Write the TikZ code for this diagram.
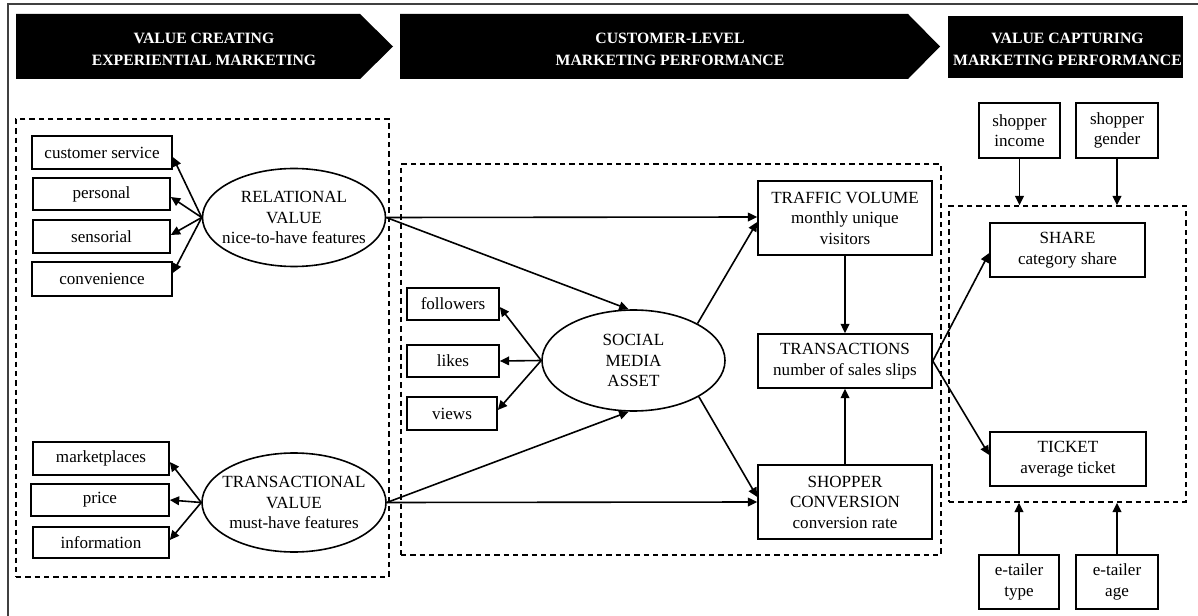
\documentclass[tikz,border=0pt]{standalone}
\usepackage{fontspec}
\setmainfont{Liberation Serif}
\usetikzlibrary{shapes.geometric,arrows.meta}

\begin{document}
\begin{tikzpicture}[x=0.75pt,y=-0.75pt,
  sz/.style 2 args={minimum width=#1*0.75pt, minimum height=#2*0.75pt},
  txt/.style={align=center, font=\fontsize{12.8pt}{15.4pt}\selectfont},
  box/.style={draw, line width=1.2pt, inner sep=0pt, txt},
  oval/.style={draw, ellipse, line width=1.2pt, inner sep=0pt},
  group/.style={draw, line width=1.1pt, dash pattern=on 4pt off 3pt, inner sep=0pt},
  link/.style={line width=1.2pt, -{Triangle[length=7pt,width=6.5pt]}},
  banner/.style={fill=black},
  bannertext/.style={text=white, align=center, font=\bfseries\fontsize{11.8pt}{16.5pt}\selectfont}
]
\useasboundingbox (0,0) rectangle (1198,616);

% outer frame
\draw[line width=0.8pt, black!75] (8,620) -- (8,4) -- (1200,4);

% stage banners
\fill[banner] (16,14) -- (360,14) -- (393,46.5) -- (360,79) -- (16,79) -- cycle;
\fill[banner] (400,14) -- (908,14) -- (940,46.5) -- (908,79) -- (400,79) -- cycle;
\fill[banner] (948,16) rectangle (1183,78);
\node[bannertext] (h1) at (204,49) {VALUE CREATING\\EXPERIENTIAL MARKETING};
\node[bannertext] (h2) at (670,49) {CUSTOMER-LEVEL\\MARKETING PERFORMANCE};
\node[bannertext] (h3) at (1067.5,49) {VALUE CAPTURING\\MARKETING PERFORMANCE};

% dashed groups
\node[group, sz={373}{458}] (gl) at (202.5,348) {};
\node[group, sz={540}{391}] (gm) at (671,359.5) {};
\node[group, sz={237}{296}] (gr) at (1067.5,354) {};

% relational value
\node[box, sz={140}{33}] (cs) at (102,152.5) {customer service};
\node[box, sz={137}{32}] (pe) at (101.5,194) {personal};
\node[box, sz={137}{33}] (se) at (101.5,236.5) {sensorial};
\node[box, sz={140}{34}] (co) at (102,279) {convenience};
\node[oval, sz={183}{98}] (rel) at (294,217.5) {};
\node[txt] at (rel) {RELATIONAL\\VALUE\\nice-to-have features};

% transactional value
\node[box, sz={136}{33}] (mp) at (101,458.5) {marketplaces};
\node[box, sz={138}{32}] (pr) at (100,500) {price};
\node[box, sz={136}{31}] (in) at (101,542.5) {information};
\node[oval, sz={184}{99}] (tra) at (294,502.5) {};
\node[txt] at (tra) {TRANSACTIONAL\\VALUE\\must-have features};

% social media asset
\node[box, sz={92}{32}] (fo) at (453,304) {followers};
\node[box, sz={92}{32}] (li) at (453,361) {likes};
\node[box, sz={90}{33}] (vi) at (452,413.5) {views};
\node[oval, sz={183}{101}] (sma) at (633.5,360.5) {};
\node[txt] at (sma) {SOCIAL\\MEDIA\\ASSET};

% customer-level performance
\node[box, sz={174}{74}] (tv) at (845,218) {TRAFFIC VOLUME\\monthly unique\\visitors};
\node[box, sz={174}{54}] (tr) at (845,361) {TRANSACTIONS\\number of sales slips};
\node[box, sz={174}{74}] (sc) at (845,502) {SHOPPER\\CONVERSION\\conversion rate};

% value capturing performance
\node[box, sz={155}{54}] (sh) at (1067.5,250) {SHARE\\category share};
\node[box, sz={156}{54}] (ti) at (1068,459) {TICKET\\average ticket};
\node[box, sz={81}{55}] (si) at (1019.5,130.5) {shopper\\income};
\node[box, sz={82}{55}] (sg) at (1117,130.5) {shopper\\gender};
\node[box, sz={80}{54}] (et) at (1019,582) {e-tailer\\type};
\node[box, sz={82}{54}] (ea) at (1117,582) {e-tailer\\age};

% indicators
\draw[link] (rel.west) -- ([shift={(0,4.5)}]cs.east);
\draw[link] (rel.west) -- ([shift={(0,3)}]pe.east);
\draw[link] (rel.west) -- ([shift={(0,-1.5)}]se.east);
\draw[link] (rel.west) -- ([shift={(0,-6)}]co.east);
\draw[link] (tra.west) -- ([shift={(0,3.5)}]mp.east);
\draw[link] (tra.west) -- (pr.east);
\draw[link] (tra.west) -- ([shift={(0,-2.5)}]in.east);
\draw[link] (sma.west) -- ([shift={(0,3)}]fo.east);
\draw[link] (sma.west) -- (li.east);
\draw[link] (sma.west) -- ([shift={(0,-3.5)}]vi.east);

% structural paths
\draw[link] (rel.east) -- ([shift={(0,-1)}]tv.west);
\draw[link] (rel.east) -- ([shift={(-5,0)}]sma.north);
\draw[link] (tra.east) -- (sc.west);
\draw[link] (tra.east) -- ([shift={(-5,0)}]sma.south);
\draw[link] (sma.30) -- ([shift={(0,4)}]tv.west);
\draw[link] (sma.-29) -- ([shift={(0,-5)}]sc.west);
\draw[link] (tv.south) -- (tr.north);
\draw[link] (sc.north) -- (tr.south);
\draw[link] (tr.east) -- ([shift={(0,3)}]sh.west);
\draw[link] (tr.east) -- ([shift={(0,-4)}]ti.west);

% moderators
\draw[link] (si.south) -- (si.south |- gr.north);
\draw[link] (sg.south) -- (sg.south |- gr.north);
\draw[link] (et.north) -- (et.north |- gr.south);
\draw[link] (ea.north) -- (ea.north |- gr.south);
\end{tikzpicture}
\end{document}
